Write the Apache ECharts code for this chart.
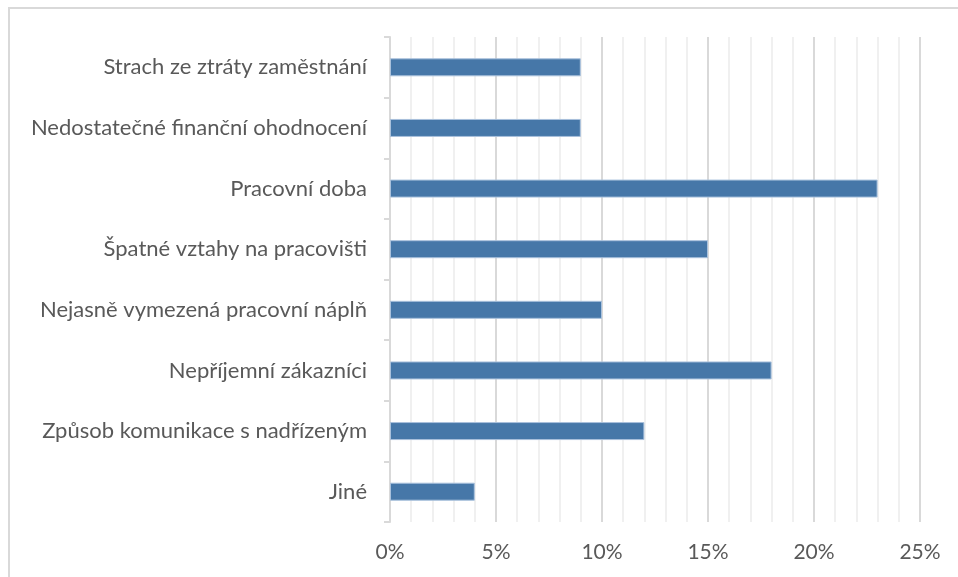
<!DOCTYPE html>
<html><head><meta charset="utf-8">
<script src="https://cdn.jsdelivr.net/npm/echarts@6/dist/echarts.min.js"></script>
<style>html,body{margin:0;padding:0;background:#fff}#c{width:958px;height:577px}</style>
</head><body><div id="c"></div>
<script>
const categories = ["Strach ze ztráty zaměstnání","Nedostatečné finanční ohodnocení","Pracovní doba","Špatné vztahy na pracovišti","Nejasně vymezená pracovní náplň","Nepříjemní zákazníci","Způsob komunikace s nadřízeným","Jiné"];
const values = [9, 9, 23, 15, 10, 18, 12, 4];
const xTicks = [0, 5, 10, 15, 20, 25];

const chart = echarts.init(document.getElementById('c'), null, {renderer:'canvas'});
chart.setOption({
  animation:false,
  graphic:[{type:'rect', shape:{x:9,y:8,width:970,height:600}, style:{fill:'none', stroke:'#d9d9d9', lineWidth:2}}],
  grid:{left:390, right:38, top:37, bottom:55, containLabel:false},
  xAxis:{type:'value', min:xTicks[0], max:xTicks[xTicks.length-1], interval:5,
    axisLine:{show:false}, axisTick:{show:false},
    axisLabel:{formatter:v=>v+'%', color:'#595959', fontFamily:'Lato', fontSize:21, margin:20},
    splitLine:{show:true, lineStyle:{color:'#d9d9d9', width:2}},
    minorTick:{show:false, splitNumber:5},
    minorSplitLine:{show:true, lineStyle:{color:'#f0f0f0', width:2}}
  },
  yAxis:{type:'category', data:categories, inverse:true,
    axisLine:{show:true, lineStyle:{color:'#d9d9d9', width:2}},
    axisTick:{show:true, length:6, lineStyle:{color:'#d9d9d9', width:2}},
    axisLabel:{color:'#595959', fontFamily:'Lato', fontSize:22, margin:23}
  },
  series:[{type:'bar', data:values, barWidth:18,
    itemStyle:{color:'#4677a8', borderColor:'#a9c1dc', borderWidth:1}}]
});
</script></body></html>
